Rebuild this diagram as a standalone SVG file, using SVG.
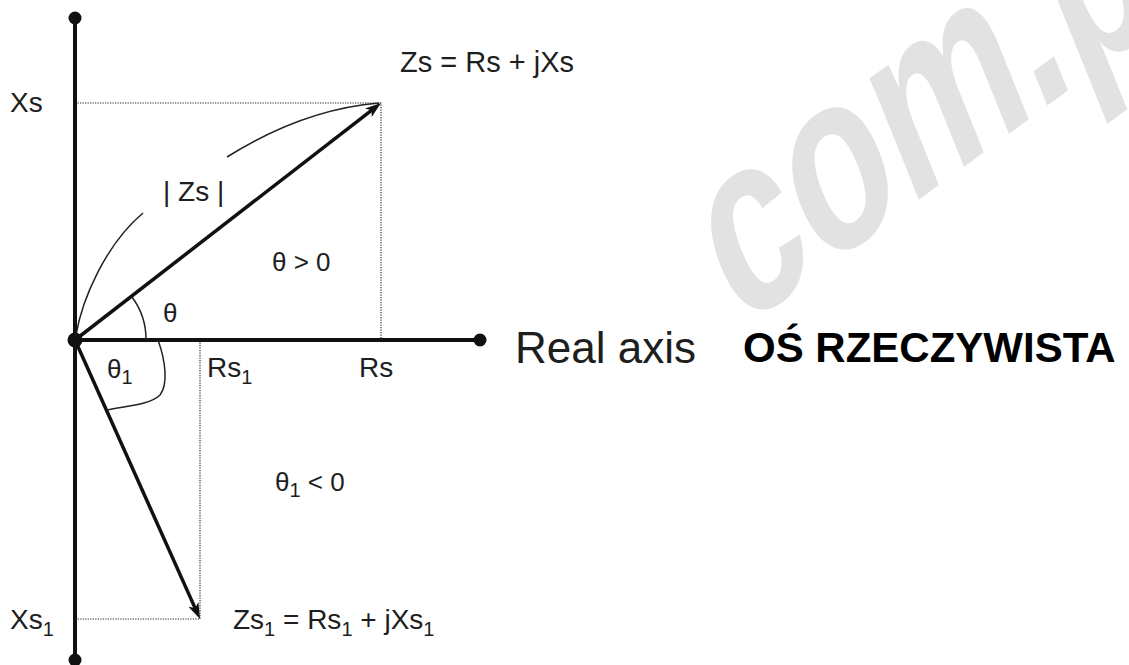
<svg xmlns="http://www.w3.org/2000/svg" width="1129" height="665" viewBox="0 0 1129 665">
<style>
text{font-family:"Liberation Sans",Arial,sans-serif;fill:#1e1e1e}
.lbl{font-size:28px}
.th{font-size:26px}
.sub{font-size:20px}
.axis{stroke:#111;stroke-width:4;fill:none}
.vec{stroke:#111;stroke-width:3.5;fill:none}
.dot{stroke:#333;stroke-width:1.2;stroke-dasharray:1.3 1.2;fill:none}
.thin{stroke:#222;stroke-width:1.5;fill:none}
</style>
<defs>
<marker id="arr" markerUnits="userSpaceOnUse" markerWidth="17" markerHeight="13" viewBox="0 -6.5 17 13" refX="6" refY="0" orient="auto">
<path d="M16,0 L0,-5.5 L4,0 L0,5.5 Z" fill="#111"/>
</marker>
</defs>
<rect width="1129" height="665" fill="#fff"/>
<g id="watermark">
<text transform="matrix(1.45,-1.06,0.926,2.3,739.5,330.8)" font-size="100" font-weight="bold" style="fill:#e2e2e2">com.p</text>
</g>
<g id="guides">
<path class="dot" d="M75,103 H381 V340"/>
<path class="dot" d="M200,340 V619 H75"/>
</g>
<g id="axes">
<line class="axis" x1="75" y1="18" x2="75" y2="660"/>
<line class="axis" x1="75" y1="340" x2="480" y2="340"/>
<circle cx="75" cy="18" r="6.5" fill="#111"/>
<circle cx="75" cy="660" r="6.5" fill="#111"/>
<circle cx="480" cy="340" r="6.5" fill="#111"/>
<circle cx="75" cy="340" r="7.5" fill="#111"/>
</g>
<g id="connectors">
<line id="vec-zs" class="vec" x1="75" y1="340" x2="373.1" y2="109.1" marker-end="url(#arr)"/>
<line id="vec-zs1" class="vec" x1="75" y1="340" x2="195.9" y2="609.9" marker-end="url(#arr)"/>
<path class="thin" d="M76,335 C82,300 105,245 143,213"/>
<path class="thin" d="M227,157 C270,130 320,108 379,103"/>
<path class="thin" d="M132,297 A71,71 0 0 1 146,340"/>
<path class="thin" d="M158,340 C166,362 168,385 160,395 C150,405 125,406 107,410"/>
</g>
<g id="labels">
<text class="lbl" x="400" y="72" style="font-size:29px">Zs = Rs + jXs</text>
<text class="lbl" x="10" y="112">Xs</text>
<text class="lbl" x="163" y="201">| Zs |</text>
<text class="th" x="272" y="271">θ &gt; 0</text>
<text class="th" x="163" y="322">θ</text>
<text class="th" x="107" y="378">θ<tspan class="sub" dy="6">1</tspan></text>
<text class="lbl" x="207" y="377">Rs<tspan class="sub" dy="7">1</tspan></text>
<text class="lbl" x="359" y="377">Rs</text>
<text x="515" y="363" style="font-size:44px">Real axis</text>
<text x="743" y="362" style="font-size:42px;font-weight:bold;fill:#000">OŚ RZECZYWISTA</text>
<text class="th" x="275" y="491">θ<tspan class="sub" dy="6">1</tspan><tspan dy="-6"> &lt; 0</tspan></text>
<text class="lbl" x="10" y="629">Xs<tspan class="sub" dy="7">1</tspan></text>
<text class="lbl" x="233" y="629">Zs<tspan class="sub" dy="7">1</tspan><tspan dy="-7"> = Rs</tspan><tspan class="sub" dy="7">1</tspan><tspan dy="-7"> + jXs</tspan><tspan class="sub" dy="7">1</tspan></text>
</g>
</svg>
